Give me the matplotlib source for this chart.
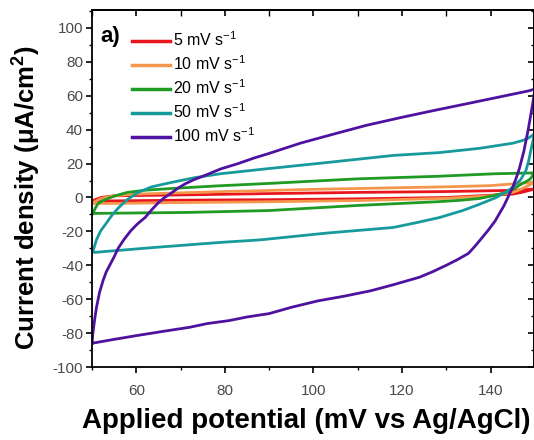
import matplotlib
matplotlib.use("Agg")
import matplotlib.pyplot as plt
from matplotlib.ticker import MultipleLocator

plt.rcParams['font.family'] = ['Liberation Sans', 'DejaVu Sans']
plt.rcParams['mathtext.fontset'] = 'custom'
plt.rcParams['mathtext.rm'] = 'Liberation Sans'
plt.rcParams['mathtext.it'] = 'Liberation Sans:italic'
plt.rcParams['mathtext.bf'] = 'Liberation Sans:bold'
plt.rcParams['axes.unicode_minus'] = False

labels = ["5 mV s$^{-1}$", "10 mV s$^{-1}$", "20 mV s$^{-1}$", "50 mV s$^{-1}$", "100 mV s$^{-1}$"]
colors = ["#e8161c", "#f4974c", "#1f9a22", "#179a9c", "#4f12a0"]

# 5 mV/s loop (forward then reverse sweep)
x5 = [50, 52, 55, 70, 90, 110, 130, 145, 150, 147, 145, 130, 110, 90, 70, 55, 50]
y5 = [-2, 0, 1, 1.5, 2.3, 3, 3.5, 4.2, 5, 3, 2, 0, -0.8, -1.3, -1.6, -2, -2]

# 10 mV/s loop
x10 = [50, 52, 55, 60, 80, 100, 120, 130, 140, 150, 147, 145, 140, 130, 110, 90, 70, 55, 50]
y10 = [-3.5, -0.5, 1, 2, 3.5, 4.8, 5.8, 6.3, 7, 9, 5, 3, 1, -0.5, -1.8, -2.5, -3, -3.5, -3.5]

# 20 mV/s loop
x20 = [50, 50.2, 50.8, 51.4, 52.5, 53.6, 55.5, 58, 62, 68, 78, 90, 110, 128, 141, 150,
       149.5, 149, 148.2, 147.2, 145.5, 143.6, 140.5, 137.5, 133, 128, 110, 90, 72, 50.2, 50]
y20 = [-10, -9.4, -6, -3.5, -1.8, -0.6, 1.2, 3, 4.3, 5.3, 6.8, 8.3, 11, 12.5, 14, 14.5,
       13, 11, 9.6, 8.3, 5.5, 3, 1, -0.6, -1.7, -2.5, -4.7, -7.7, -8.8, -9.4, -10]

# 50 mV/s loop
x50 = [50, 50.3, 51, 52, 53, 54.5, 56, 58, 60.4, 63.5, 67.8, 73, 79, 89.7, 103, 118, 128.5, 137.5, 145, 147.2, 148.5, 149.4, 150,
       149.7, 149.2, 148.6, 148, 146.8, 145, 143.2, 141.3, 137.5, 133.7, 128.5, 123, 118, 103, 88, 79, 64, 50.5, 50]
y50 = [-32, -31, -25, -19.5, -16, -10.5, -6, -1.2, 3, 6.3, 8.8, 11.6, 14, 17, 20.6, 24.8, 26.5, 29, 32, 33.6, 35, 36.5, 38,
       35, 29, 21.5, 16, 10.5, 6, 2.8, 0, -4, -7.7, -11.8, -15, -17.7, -21, -25, -26.5, -29.5, -32.4, -32]

# 100 mV/s loop
x100 = [50, 50.2, 50.6, 51, 51.7, 52.5, 53.2, 54, 55, 55.9, 57.3, 58.8, 60.3, 62, 63.5, 65, 66.4, 67.8, 69.3, 71, 73, 75.5,
        79, 83, 86.5, 90, 97, 105, 112, 120, 127, 135, 142, 148.8, 150,
        149.8, 149.5, 149, 148.5, 148, 147.5, 147, 146.5, 145.8, 145, 144, 143, 142, 141, 139.5, 138, 136.5, 135, 132.5,
        130, 127, 124, 118, 113, 107, 101, 95, 90, 85, 81, 76, 72, 66, 60, 55, 50]
y100 = [-86, -80, -72, -65, -56, -49, -44, -40, -35, -30, -24.5, -19.5, -15.5, -11.8, -7.2, -3, 0, 2.4, 5.3, 8, 10.5, 13,
        16.8, 20, 23.2, 26, 32, 37.7, 42.6, 47.3, 51.2, 55.5, 59.3, 63, 64,
        60, 55, 47.5, 40, 33.5, 27, 22, 17, 11.5, 6, 0.5, -5, -9.5, -14, -19.2, -24, -28.7, -33, -36.7,
        -40, -43.7, -47, -51.5, -55, -58.2, -61, -64.8, -68.5, -70.5, -72.6, -74.4, -76.6, -79, -81.5, -83.7, -86]

xs = [x5, x10, x20, x50, x100]
ys = [y5, y10, y20, y50, y100]

xticks = [60, 80, 100, 120, 140]
yticks = [-100, -80, -60, -40, -20, 0, 20, 40, 60, 80, 100]

fig = plt.figure(figsize=(5.34, 4.4), dpi=100)
ax = fig.add_axes([92/534, 1-367/440, (533.5-92)/534, (367-10)/440])

for x, y, c, l in zip(xs, ys, colors, labels):
    ax.plot(x, y, color=c, lw=2.0, label=l)

ax.set_xlim(50, 149.7)
ax.set_ylim(-100, 110.6)
ax.set_xticks(xticks)
ax.set_yticks(yticks)
ax.xaxis.set_minor_locator(MultipleLocator(10))
ax.yaxis.set_minor_locator(MultipleLocator(10))
ax.tick_params(which='major', direction='out', length=4.5, width=1.2, labelsize=11,
               labelcolor='#4a4a4a')
ax.tick_params(axis='x', which='major', pad=8)
ax.tick_params(axis='y', which='major', pad=2)
ax.tick_params(which='minor', direction='out', length=2.5, width=1.0)
for s in ax.spines.values():
    s.set_linewidth(1.3)

top = ax.secondary_xaxis('top')
top.set_xticks(xticks)
top.xaxis.set_minor_locator(MultipleLocator(10))
top.tick_params(which='major', direction='in', length=4.5, width=1.2, labeltop=False)
top.tick_params(which='minor', direction='in', length=4.5, width=1.0)
top.spines['top'].set_linewidth(1.3)
right = ax.secondary_yaxis('right')
right.set_yticks(yticks)
right.yaxis.set_minor_locator(MultipleLocator(10))
right.tick_params(which='major', direction='in', length=4.5, width=1.2, labelright=False)
right.tick_params(which='minor', direction='in', length=2.5, width=1.0)
right.spines['right'].set_linewidth(1.3)

ax.set_xlabel("Applied potential (mV vs Ag/AgCl)", fontsize=20, fontweight='bold')
ax.xaxis.set_label_coords(0.485, -0.115)
ax.set_ylabel("Current density ($\\mathbf{\\mu}$A/cm$^{\\mathbf{2}}$)", fontsize=18.5, fontweight='bold')
ax.yaxis.set_label_coords(-0.11, 0.475)

ax.text(0.018, 0.955, "a)", transform=ax.transAxes, fontsize=16, fontweight='bold', va='top', ha='left')

leg = ax.legend(loc='upper left', bbox_to_anchor=(0.075, 0.96), frameon=False, fontsize=11.5,
                handlelength=2.4, handletextpad=0.2, labelspacing=0.33, borderaxespad=0)
for line in leg.get_lines():
    line.set_linewidth(2.5)

fig.savefig("out.png", dpi=100)
